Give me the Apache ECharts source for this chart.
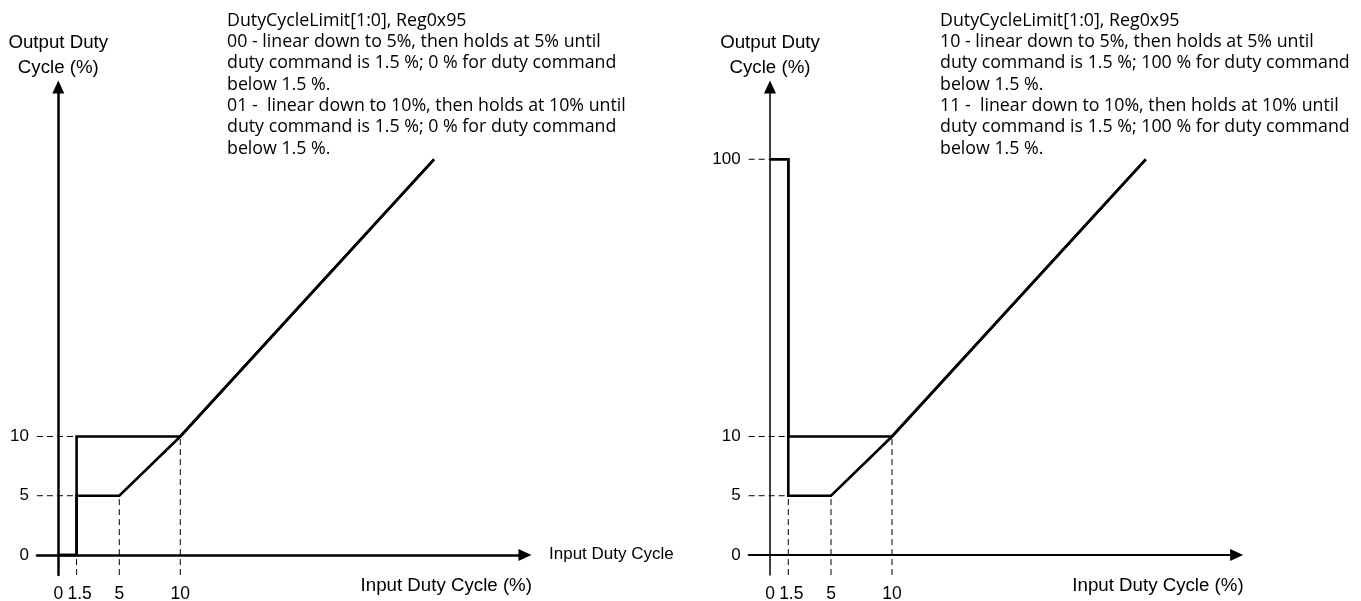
<!DOCTYPE html>
<html><head><meta charset="utf-8">
<script src="https://cdn.jsdelivr.net/npm/echarts@6/dist/echarts.min.js"></script>
<style>html,body{margin:0;padding:0;background:#fff}#c{width:1361px;height:601px}</style>
</head><body><div id="c"></div>
<script>
// ---- data ----
const xTickLabels = [0, 1.5, 5, 10];
const yTickLabelsLeft = [0, 5, 10];
const yTickLabelsRight = [0, 5, 10, 100];

// Input duty cycle (%) breakpoints
const inputFloor5 = [0, 1.5, 1.5, 5, 10, 100];
const inputFloor10 = [0, 1.5, 1.5, 10, 100];
// Output duty cycle (%) for each DutyCycleLimit setting
const mode00 = [0, 0, 5, 5, 10, 100];
const mode01 = [0, 0, 10, 10, 100];
const mode10 = [100, 100, 5, 5, 10, 100];
const mode11 = [100, 100, 10, 10, 100];

const annotationLeft = [
  'DutyCycleLimit[1:0], Reg0x95',
  '00 - linear down to 5%, then holds at 5% until',
  'duty command is 1.5 %; 0 % for duty command',
  'below 1.5 %.',
  '01 -  linear down to 10%, then holds at 10% until',
  'duty command is 1.5 %; 0 % for duty command',
  'below 1.5 %.'
];
const annotationRight = [
  'DutyCycleLimit[1:0], Reg0x95',
  '10 - linear down to 5%, then holds at 5% until',
  'duty command is 1.5 %; 100 % for duty command',
  'below 1.5 %.',
  '11 -  linear down to 10%, then holds at 10% until',
  'duty command is 1.5 %; 100 % for duty command',
  'below 1.5 %.'
];
const yAxisName = 'Output Duty\nCycle (%)';
const xAxisName = 'Input Duty Cycle (%)';
const xAxisSideName = 'Input Duty Cycle';

// ---- helpers ----
const X_MIN = -1.75, X_MAX = 107.45, Y_MIN = -1.7, Y_MAX = 106.1;
const STEP_X = 1.5;
const pairs = (xs, ys) => xs.map((x, i) => [x, ys[i]]);
const AXIS_FONT = 'Liberation Sans';
const NOTE_FONT = 'Open Sans';

function solid(data, gi, w) {
  return {type: 'line', data, xAxisIndex: gi, yAxisIndex: gi, symbol: 'none', silent: true,
    z: 5, lineStyle: {color: '#000', width: w || 2.6, cap: 'butt', join: 'miter'}};
}
function dashed(data, gi) {
  return {type: 'line', data, xAxisIndex: gi, yAxisIndex: gi, symbol: 'none', silent: true,
    z: 2, lineStyle: {color: '#000', width: 1, type: [6, 4]}};
}
function guides(gi, yTicks, seriesList) {
  const out = [];
  yTicks.filter(v => v > 0).forEach(v => out.push(dashed([[X_MIN, v], [STEP_X, v]], gi)));
  xTickLabels.filter(v => v > 0).forEach(v => {
    let low = Infinity;
    seriesList.forEach(s => s.forEach(p => { if (p[0] === v) low = Math.min(low, p[1]); }));
    out.push(dashed([[v, Y_MIN], [v, low]], gi));
  });
  return out;
}

const breakArea = {show: false, itemStyle: {opacity: 0, borderWidth: 0}};
function xAxis(gi, lw) {
  return {type: 'value', gridIndex: gi, min: X_MIN, max: X_MAX,
    breaks: [{start: 12, end: 95, gap: 13.8}], breakArea,
    axisLine: {onZero: true, breakLine: false, lineStyle: {color: '#000', width: lw},
      symbol: ['none', 'triangle'], symbolSize: [12, 13]},
    axisTick: {show: false}, splitLine: {show: false},
    axisLabel: {customValues: xTickLabels, margin: 10, color: '#000', fontFamily: AXIS_FONT, fontSize: 17.5,
      formatter: v => v === STEP_X ? '{s|' + v + '}' : String(v),
      rich: {s: {padding: [0, 0, 0, 6], fontFamily: AXIS_FONT, fontSize: 17.5, color: '#000'}}},
    name: xAxisName, nameLocation: 'end', nameGap: 7,
    nameTextStyle: {align: 'right', verticalAlign: 'top', padding: [21, 0, 0, 0], lineHeight: 20,
      color: '#000', fontFamily: AXIS_FONT, fontSize: 18.7}
  };
}
function yAxis(gi, ticks, lw) {
  return {type: 'value', gridIndex: gi, min: Y_MIN, max: Y_MAX,
    breaks: [{start: 12, end: 95, gap: 16.4}], breakArea,
    axisLine: {onZero: true, breakLine: false, lineStyle: {color: '#000', width: lw},
      symbol: ['none', 'triangle'], symbolSize: [12, 13]},
    axisTick: {show: false}, splitLine: {show: false},
    axisLabel: {customValues: ticks, margin: 8, color: '#000', fontFamily: AXIS_FONT, fontSize: 17},
    name: yAxisName, nameLocation: 'end', nameGap: 6.5,
    nameTextStyle: {align: 'center', verticalAlign: 'bottom', lineHeight: 25, color: '#000', fontFamily: AXIS_FONT, fontSize: 18.7}
  };
}

const s00 = pairs(inputFloor5, mode00), s01 = pairs(inputFloor10, mode01);
const s10 = pairs(inputFloor5, mode10), s11 = pairs(inputFloor10, mode11);

const noteStyle = {fontFamily: NOTE_FONT, fontSize: 17.8, fontWeight: 'normal', color: '#000', lineHeight: 21.3};
const chart = echarts.init(document.getElementById('c'), null, {renderer: 'canvas'});
chart.setOption({
  animation: false,
  backgroundColor: '#fff',
  title: [
    {text: annotationLeft.join('\n'), left: 227, top: 10, padding: 0, textStyle: noteStyle},
    {text: annotationRight.join('\n'), left: 940, top: 10, padding: 0, textStyle: noteStyle}
  ],
  grid: [
    {left: 36.95, top: 87, width: 488, height: 488.1, containLabel: false, outerBoundsMode: 'none'},
    {left: 748.65, top: 87, width: 488, height: 488.1, containLabel: false, outerBoundsMode: 'none'}
  ],
  xAxis: [xAxis(0, 2.5), xAxis(1, 2)],
  yAxis: [yAxis(0, yTickLabelsLeft, 2.5), yAxis(1, yTickLabelsRight, 1.5)],
  graphic: [
    {type: 'text', x: 549, y: 554, silent: true,
     style: {text: xAxisSideName, fill: '#000', font: '17px "Liberation Sans"', verticalAlign: 'middle', align: 'left'}}
  ],
  series: [
    ...guides(0, yTickLabelsLeft, [s00, s01]),
    ...guides(1, yTickLabelsRight, [s10, s11]),
    solid(s00, 0), solid(s01, 0),
    solid(s10, 1), solid(s11, 1)
  ]
});
</script>
</body></html>
